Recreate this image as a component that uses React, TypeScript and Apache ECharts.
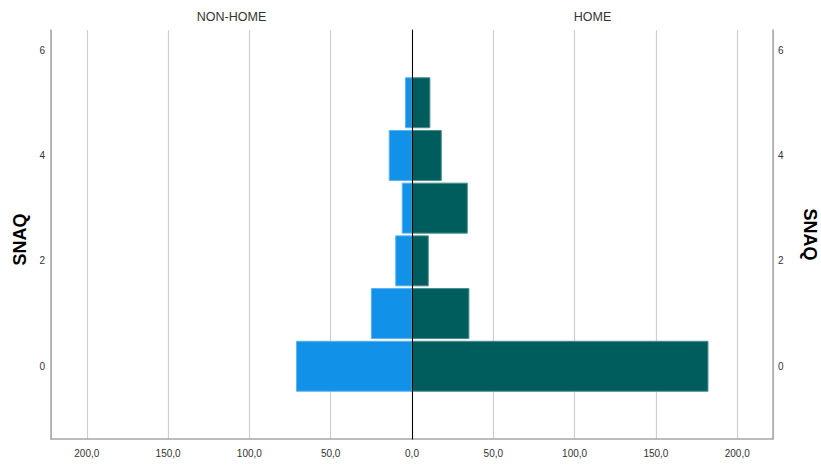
import React, { useEffect, useRef } from "react";
import * as echarts from "echarts";

const snaqValues = [0, 1, 2, 3, 4, 5];
const nonHomeCounts = [71, 25, 10, 6, 14, 4];
const homeCounts = [182, 35, 10, 34, 18, 11];
const yTickValues = [0, 2, 4, 6];
const panelTitles = ["NON-HOME", "HOME"];
const axisTitle = "SNAQ";

const FONT = "'Liberation Sans', Arial, sans-serif";
const BLUE = "#1192e8";
const TEAL = "#005d5d";
const HALF = 0.474;

const fmt = (v: number) => v.toFixed(1).replace(".", ",");

function makeRender(fill: string, stroke: string) {
  return (params: any, api: any) => {
    const v = api.value(0);
    const y = api.value(1);
    const p0 = api.coord([0, y + HALF]);
    const p1 = api.coord([v, y - HALF]);
    return {
      type: "rect",
      shape: {
        x: Math.min(p0[0], p1[0]),
        y: Math.min(p0[1], p1[1]),
        width: Math.abs(p1[0] - p0[0]),
        height: Math.abs(p1[1] - p0[1]),
      },
      style: { fill, stroke, lineWidth: 1 },
    };
  };
}

export default function App() {
  const ref = useRef<HTMLDivElement>(null);
  useEffect(() => {
    document.body.style.margin = "0";
    if (!ref.current) return;
    const chart = echarts.init(ref.current, undefined, { renderer: "svg" });
    const xAxisBase = (gridIndex: number, inverse: boolean) => ({
      type: "value",
      gridIndex,
      inverse,
      min: 0,
      max: 222,
      interval: 50,
      axisLine: { show: true, onZero: false, lineStyle: { color: "#a6a6a6", width: 1.5 } },
      axisTick: { show: false },
      splitLine: { show: true, lineStyle: { color: "#cfcfcf", width: 1.2 } },
      axisLabel: {
        formatter: (v: number) => fmt(v),
        showMaxLabel: false,
        showMinLabel: !inverse,
        color: "#333",
        fontSize: 10,
        fontFamily: FONT,
        margin: 9,
      },
    });
    const yLabel = {
      customValues: yTickValues,
      color: "#333",
      fontSize: 10,
      fontFamily: FONT,
      padding: [5, 0, 0, 0],
    };
    const option: any = {
      animation: false,
      grid: [
        { left: 51, top: 30, width: 361, height: 409 },
        { left: 412, top: 30, width: 361, height: 409 },
      ],
      xAxis: [xAxisBase(0, true), xAxisBase(1, false)],
      yAxis: [
        {
          type: "value",
          gridIndex: 0,
          position: "left",
          min: -1.38,
          max: 6.38,
          axisLine: { show: true, onZero: false, lineStyle: { color: "#a6a6a6", width: 1.5 } },
          axisTick: { show: false },
          splitLine: { show: false },
          axisLabel: { ...yLabel, margin: 6 },
          name: axisTitle,
          nameLocation: "middle",
          nameRotate: 90,
          nameGap: 22,
          nameTextStyle: { fontSize: 18, fontWeight: "bold", color: "#000", fontFamily: FONT, padding: [0, 0, 0, -10] },
        },
        {
          type: "value",
          gridIndex: 1,
          position: "right",
          min: -1.38,
          max: 6.38,
          axisLine: { show: true, onZero: false, lineStyle: { color: "#a6a6a6", width: 1.5 } },
          axisTick: { show: false },
          splitLine: { show: false },
          axisLabel: { ...yLabel, margin: 5 },
          name: axisTitle,
          nameLocation: "middle",
          nameRotate: -90,
          nameGap: 28,
          nameTextStyle: { fontSize: 18, fontWeight: "bold", color: "#000", fontFamily: FONT },
        },
        {
          type: "value",
          gridIndex: 1,
          position: "left",
          min: -1.38,
          max: 6.38,
          z: 10,
          axisLine: { show: true, onZero: false, lineStyle: { color: "#000", width: 1 } },
          axisTick: { show: false },
          splitLine: { show: false },
          axisLabel: { show: false },
        },
      ],
      graphic: [
        {
          type: "text",
          x: 231.5,
          y: 17,
          style: { text: panelTitles[0], align: "center", verticalAlign: "middle", fontSize: 12.5, fill: "#333", fontFamily: FONT },
        },
        {
          type: "text",
          x: 592.5,
          y: 17,
          style: { text: panelTitles[1], align: "center", verticalAlign: "middle", fontSize: 12.5, fill: "#333", fontFamily: FONT },
        },
      ],
      series: [
        {
          type: "custom",
          name: panelTitles[0],
          xAxisIndex: 0,
          yAxisIndex: 0,
          encode: { x: 0, y: 1 },
          renderItem: makeRender(BLUE, "#5cb3ee"),
          data: snaqValues.map((s, i) => [nonHomeCounts[i], s]),
        },
        {
          type: "custom",
          name: panelTitles[1],
          xAxisIndex: 1,
          yAxisIndex: 1,
          encode: { x: 0, y: 1 },
          renderItem: makeRender(TEAL, "#4a8e8e"),
          data: snaqValues.map((s, i) => [homeCounts[i], s]),
        },
      ],
    };
    chart.setOption(option);
    return () => chart.dispose();
  }, []);
  return <div ref={ref} style={{ width: 821, height: 466 }} />;
}
